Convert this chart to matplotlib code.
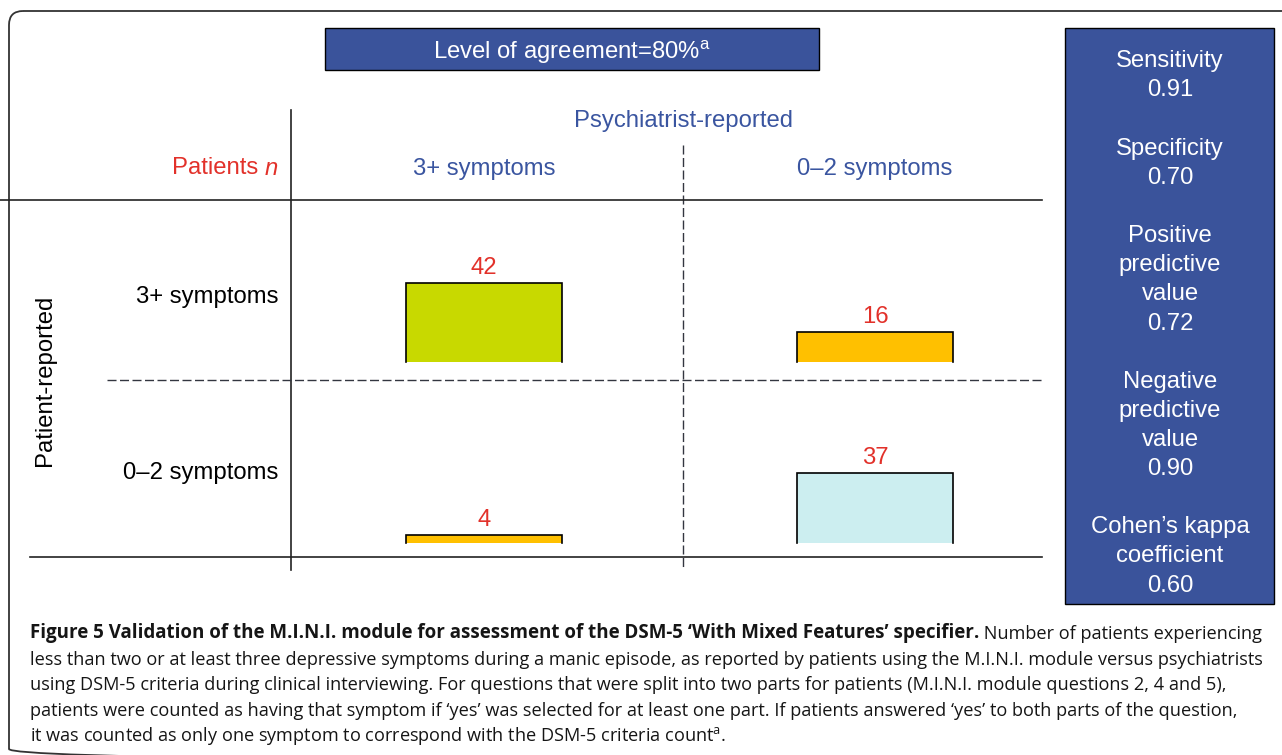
import matplotlib
matplotlib.use("Agg")
import matplotlib.pyplot as plt
from matplotlib.patches import Rectangle, FancyBboxPatch

# ---------------- data ----------------
psych_categories = ["3+ symptoms", "0\u20132 symptoms"]      # columns (psychiatrist-reported)
patient_categories = ["3+ symptoms", "0\u20132 symptoms"]    # rows (patient-reported)
row_3plus_counts = [42, 16]
row_0to2_counts = [4, 37]
agreement_pct = 80
metric_names = ["Sensitivity", "Specificity", "Positive\npredictive\nvalue",
                "Negative\npredictive\nvalue", "Cohen\u2019s kappa\ncoefficient"]
metric_values = [0.91, 0.70, 0.72, 0.90, 0.60]

# ---------------- style ----------------
W, H = 1282, 755
BLUE_BOX = "#3A539B"
BLUE_TXT = "#3A55A0"
RED = "#E2312A"
GREEN = "#C8D900"
ORANGE = "#FFC000"
CYAN = "#CCEEF0"
LINE = "#222222"
DASH = "#333640"
FONT = "Liberation Sans"
CAP_FONT = "Open Sans"
FS = 17.2
DY = 2.5  # vertical nudge so va='center' matches visual centre

fig = plt.figure(figsize=(W / 100, H / 100), dpi=100)
ax = fig.add_axes([0, 0, 1, 1])
ax.set_xlim(0, W)
ax.set_ylim(H, 0)
ax.axis("off")


def fig_rect(x0, y0, x1, y1):
    """pixel box (top-left origin) -> figure fraction rect"""
    return [x0 / W, 1 - y1 / H, (x1 - x0) / W, (y1 - y0) / H]


# outer rounded frame
ax.add_patch(FancyBboxPatch((9, 11), 1300, 752, boxstyle="round,pad=0,rounding_size=14",
                            fc="none", ec="#333333", lw=1.3, zorder=1, clip_on=False))

# banner
ax.add_patch(Rectangle((325, 28), 494, 42, fc=BLUE_BOX, ec="black", lw=1.0, zorder=2))
ax.text(572, 50 + DY, f"Level of agreement={agreement_pct}%" + r"$^{\mathregular{a}}$",
        ha="center", va="center", color="white", fontsize=FS, family=FONT, zorder=3)

# right metrics panel
ax.add_patch(Rectangle((1065, 28), 209, 576, fc=BLUE_BOX, ec="black", lw=1.0, zorder=2))
y = 59
for name, val in zip(metric_names, metric_values):
    lines = name.split("\n") + [f"{val:.2f}"]
    for ln in lines:
        ax.text(1170, y + DY, ln, ha="center", va="center", color="white",
                fontsize=FS, family=FONT, zorder=3)
        y += 29
    y += 29.5

# grid lines
ax.plot([291, 291], [110, 570], color=LINE, lw=1.2)
ax.plot([683, 683], [145, 570], color=DASH, lw=1.0, ls=(0, (6.5, 2.5)))
ax.plot([0, 1042], [200, 200], color=LINE, lw=1.2)
ax.plot([107, 1042], [380, 380], color=DASH, lw=1.0, ls=(0, (6.5, 2.5)))
ax.plot([30, 1042], [557, 557], color=LINE, lw=1.2)

# headers
ax.text(683, 119 + DY, "Psychiatrist-reported", ha="center", va="center",
        color=BLUE_TXT, fontsize=FS, family=FONT)
col_x = [484, 875]
for cx, lab in zip(col_x, psych_categories):
    ax.text(cx, 166 + DY, lab, ha="center", va="center", color=BLUE_TXT, fontsize=FS, family=FONT)
ax.text(265, 166 + DY, "Patients ", ha="right", va="center", color=RED,
        fontsize=FS, family=FONT)
ax.text(265, 166 + DY, "n", ha="left", va="center", color=RED, fontsize=FS,
        family=FONT, style="italic")
row_y = [295, 471]
for ry, lab in zip(row_y, patient_categories):
    ax.text(278, ry + DY, lab, ha="right", va="center", color="black", fontsize=FS, family=FONT)
ax.text(45, 380, "Patient-reported", ha="center", va="center", rotation=90,
        color="black", fontsize=FS, family=FONT)

# bars: one axes per row, same scale
px_per_unit = 79 / 42.0
col_step = col_x[1] - col_x[0]
bar_w_px = 156
ax_x0, ax_x1 = 291, 1042
xlim = ((ax_x0 - col_x[0]) / col_step, 1 + (ax_x1 - col_x[1]) / col_step)

for counts, colors, base_px, top_px in [
    (row_3plus_counts, [GREEN, ORANGE], 362, 201),
    (row_0to2_counts, [ORANGE, CYAN], 543, 381),
]:
    bax = fig.add_axes(fig_rect(ax_x0, top_px, ax_x1, base_px))
    bax.set_xlim(*xlim)
    bax.set_ylim(0, (base_px - top_px) / px_per_unit)
    bax.axis("off")
    bax.patch.set_alpha(0)
    bars = bax.bar([0, 1], counts, width=bar_w_px / col_step, color=colors,
                   edgecolor="none", zorder=2)
    for b, v in zip(bars, counts):
        x0, x1, h = b.get_x(), b.get_x() + b.get_width(), b.get_height()
        bax.plot([x0, x0, x1, x1], [0, h, h, 0], color="black", lw=1.2,
                 solid_joinstyle="miter", zorder=3, clip_on=False)
        bax.annotate(str(v), (b.get_x() + b.get_width() / 2, h), xytext=(0, 3),
                     textcoords="offset points", ha="center", va="bottom",
                     color=RED, fontsize=FS, family=FONT)

# caption
cap_fs = 13.1
CAP_COL = "#151515"
bold = ax.text(30, 638, "Figure 5 Validation of the M.I.N.I. module for assessment of the DSM-5 "
               "\u2018With Mixed Features\u2019 specifier.", ha="left", va="baseline",
               fontsize=13.5, family=CAP_FONT, weight="bold", color=CAP_COL)
ax.annotate(" Number of patients experiencing", xy=(1, 0), xycoords=bold,
            ha="left", va="bottom", fontsize=cap_fs, family=CAP_FONT, color=CAP_COL)
cap_lines = [
    "less than two or at least three depressive symptoms during a manic episode, as reported by patients using the M.I.N.I. module versus psychiatrists",
    "using DSM-5 criteria during clinical interviewing. For questions that were split into two parts for patients (M.I.N.I. module questions 2, 4 and 5),",
    "patients were counted as having that symptom if \u2018yes\u2019 was selected for at least one part. If patients answered \u2018yes\u2019 to both parts of the question,",
    "it was counted as only one symptom to correspond with the DSM-5 criteria count$^{\\mathregular{a}}$.",
]
for i, ln in enumerate(cap_lines):
    ax.text(30, 665 + 25.3 * i, ln, ha="left", va="baseline", fontsize=cap_fs,
            family=CAP_FONT, color=CAP_COL)

fig.savefig("out.png", dpi=100)
